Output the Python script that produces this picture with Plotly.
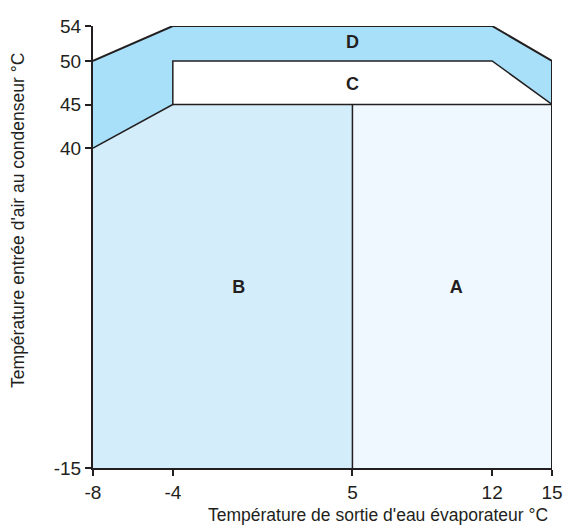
import plotly.graph_objects as go

# ---- data (in chart units) ----
x_ticks = [-8, -4, 5, 12, 15]
y_ticks = [-15, 40, 45, 50, 54]

# zone polygons: x and y vertex lists
zone_A_x = [5, 5, 15, 15]
zone_A_y = [-15, 45, 45, -15]
zone_B_x = [-8, -8, -4, 5, 5]
zone_B_y = [-15, 40, 45, 45, -15]
zone_C_x = [-4, -4, 12, 15]
zone_C_y = [45, 50, 50, 45]
zone_D_x = [-8, -8, -4, 12, 15, 15, 12, -4, -4]
zone_D_y = [40, 50, 54, 54, 50, 45, 50, 50, 45]

zone_labels = ["A", "B", "C", "D"]
label_x = [10.2, -0.7, 5, 5]
label_y = [15.8, 15.8, 47.2, 52.0]

# outline paths
outer_x = [-8, -4, 12, 15, 15]
outer_y = [50, 54, 54, 50, -15]
inner_x = [-8, -4, -4, 12, 15]
inner_y = [40, 45, 50, 50, 45]
mid_x = [-4, 15]
mid_y = [45, 45]
div_x = [5, 5]
div_y = [-15, 45]

# y axis is expanded above 40
def ty(v):
    return [40 + (a - 40) * 1.5 if a > 40 else a for a in v]

C_D = "rgb(168,224,249)"
C_B = "rgb(212,237,250)"
C_A = "rgb(238,248,254)"
LINE = "#231f20"

fig = go.Figure()
for xs, ys, col in [(zone_A_x, zone_A_y, C_A), (zone_B_x, zone_B_y, C_B),
                    (zone_C_x, zone_C_y, "white"), (zone_D_x, zone_D_y, C_D)]:
    fig.add_trace(go.Scatter(x=xs, y=ty(ys), fill="toself", fillcolor=col,
                             mode="none", hoverinfo="skip", showlegend=False))

for xs, ys, w in [(inner_x, inner_y, 1.5), (mid_x, mid_y, 1.5), (div_x, div_y, 1.5),
                  (outer_x, outer_y, 2)]:
    fig.add_trace(go.Scatter(x=xs, y=ty(ys), mode="lines",
                             line=dict(color=LINE, width=w), hoverinfo="skip",
                             showlegend=False))

fig.add_trace(go.Scatter(x=label_x, y=ty(label_y), mode="text", text=zone_labels,
                         textfont=dict(family="Liberation Sans", size=18, color=LINE,
                                       weight="bold"),
                         hoverinfo="skip", showlegend=False))

fig.update_layout(
    width=563, height=529,
    margin=dict(l=93, r=11, t=26, b=61),
    plot_bgcolor="white", paper_bgcolor="white",
    font=dict(family="Liberation Sans", color=LINE),
    xaxis=dict(range=[-8, 15], tickvals=x_ticks, ticktext=[str(v) for v in x_ticks],
               showgrid=False, zeroline=False, showline=True, linecolor=LINE,
               linewidth=2, ticks="outside", ticklen=6, tickwidth=1.5,
               tickcolor=LINE, tickfont=dict(size=19), automargin=False),
    yaxis=dict(range=[ty([-15])[0], ty([54])[0]], tickvals=ty(y_ticks),
               ticktext=[str(v) for v in y_ticks],
               showgrid=False, zeroline=False, showline=True, linecolor=LINE,
               linewidth=2, ticks="outside", ticklen=6, tickwidth=1.5,
               tickcolor=LINE, tickfont=dict(size=19), automargin=False),
    annotations=[
        dict(text="Température de sortie d'eau évaporateur °C", xref="paper",
             yref="paper", x=1.0, xshift=-2, y=0, yshift=-47, xanchor="right",
             yanchor="middle", showarrow=False, font=dict(size=17.5, color=LINE)),
        dict(text="Température entrée d'air au condenseur °C", xref="paper",
             yref="paper", x=0, xshift=-75, y=0.559, xanchor="center", yanchor="middle",
             textangle=-90, showarrow=False, font=dict(size=17.5, color=LINE)),
    ],
)

fig.write_html("out.html", config={"displayModeBar": False},
               post_script="document.body.style.margin='0';document.body.style.overflow='hidden';")
